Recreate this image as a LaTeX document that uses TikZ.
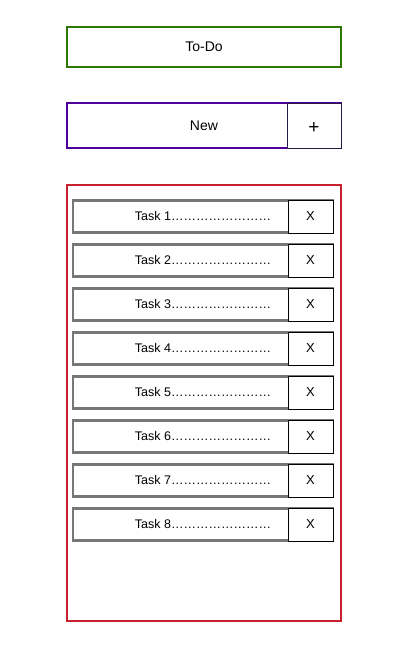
\documentclass[tikz,border=0pt]{standalone}
\usepackage{fontspec}
\setmainfont{Liberation Sans}
\definecolor{todogreen}{HTML}{2D7600}
\definecolor{newpurple}{HTML}{4C0099}
\definecolor{plusdark}{HTML}{2A1A4A}
\definecolor{listred}{HTML}{C8202F}
\definecolor{rowgray}{HTML}{777777}
\begin{document}
\begin{tikzpicture}[x=1pt,y=-1pt,
  panel/.style={draw, line width=2pt, fill=white, inner sep=0pt, outer sep=0pt},
  rowbox/.style={draw=rowgray, line width=2.2pt, fill=white, minimum width=260pt, minimum height=32pt, inner sep=0pt, font=\fontsize{12.5}{14}\selectfont},
  xbox/.style={draw=black, line width=0.8pt, fill=white, minimum width=45pt, minimum height=33pt, inner sep=0pt, font=\fontsize{13}{15}\selectfont}]
\useasboundingbox (0,0) rectangle (408,645);
\node[panel, draw=todogreen, minimum width=274pt, minimum height=40pt, font=\fontsize{14}{16}\selectfont] (todo) at (204,47) {To-Do};
\node[panel, draw=newpurple, minimum width=274pt, minimum height=45pt, font=\fontsize{14}{16}\selectfont] (new) at (204,125.5) {New};
\node[draw=plusdark, line width=1pt, fill=white, minimum width=54pt, minimum height=45pt, inner sep=0pt] (plus) at (314,125.5) {};
\node[font=\fontsize{19}{20}\selectfont, inner sep=0pt] (plussign) at (314,128) {+};
\node[panel, draw=listred, minimum width=274pt, minimum height=436pt] (list) at (204,403) {};
\foreach \i in {1,...,8}{
  \node[rowbox] (task\i) at (203,{216.5+44*(\i-1)}) {Task \i……………………};
  \node[xbox] (x\i) at (310.5,{216.5+44*(\i-1)}) {X};
}
\end{tikzpicture}
\end{document}
